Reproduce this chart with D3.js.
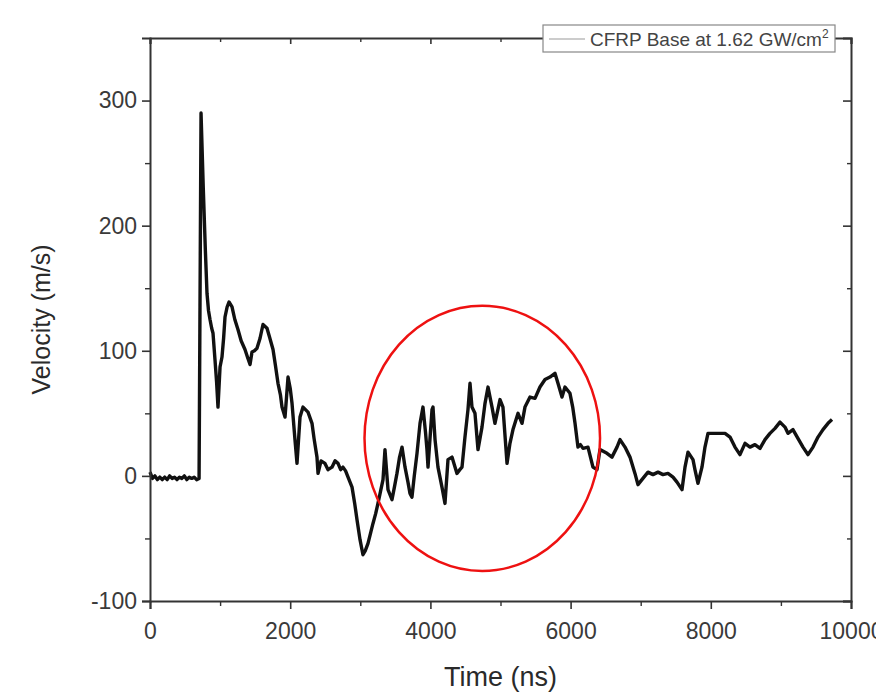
<!DOCTYPE html>
<html>
<head>
<meta charset="utf-8">
<script src="https://cdnjs.cloudflare.com/ajax/libs/d3/7.8.5/d3.min.js"></script>
<style>
  html, body { margin: 0; padding: 0; background: #fff; }
  svg text { font-family: "Liberation Sans", Arial, sans-serif; }
</style>
</head>
<body>
<svg id="chart" width="876" height="693"></svg>
<script>
// ---- data ----
const timeNs = [
  0,35,70,105,140,175,210,245,280,315,350,385,420,455,490,525,560,595,630,665,700,
  728,760,790,813,835,856,880,899,927,950,970,999,1027,1050,1070,1100,1127,1170,1210,1255,
  1300,1355,1390,1427,1455,1490,1526,1570,1612,1669,1710,1755,1790,1826,1860,1883,1926,1969,
  2000,2026,2068,2097,2140,2183,2254,2311,2340,2382,2397,2440,2496,2540,2596,2640,2682,2720,
  2753,2790,2825,2882,2920,2953,2996,3038,3070,3110,3150,3181,3220,3252,3290,3324,3352,3395,
  3452,3490,3523,3560,3595,3638,3680,3709,3737,3770,3809,3852,3894,3930,3951,3966,4023,4037,
  4066,4108,4165,4208,4251,4308,4379,4420,4451,4493,4536,4565,4593,4636,4679,4736,4779,4822,
  4879,4921,4993,5035,5093,5135,5178,5250,5307,5349,5421,5492,5563,5635,5706,5777,5820,5877,
  5920,5991,6030,6063,6105,6140,6177,6248,6319,6376,6419,6519,6590,6662,6705,6776,6847,6918,
  6961,7032,7104,7175,7247,7318,7389,7461,7518,7589,7632,7675,7746,7774,7817,7874,7917,7960,
  8031,8103,8203,8274,8345,8416,8488,8559,8630,8702,8773,8844,8916,8987,9058,9101,9172,9243,
  9315,9386,9458,9529,9600,9672,9729
];
const velocity = [
  3,-2,0,-3,-1,-3,-1,-3,0,-2,-1,-3,-1,-2,0,-3,-1,-2,-1,-3,-2,
  290,230,180,146,132,125,118,114,93,75,55,87,95,110,127,135,139,135,125,117,
  108,101,95,89,99,100,102,110,121,118,110,101,88,74,65,55,47,79,
  70,58,29,10,47,55,51,42,30,15,2,12,10,5,7,12,10,5,
  7,4,-1,-9,-22,-35,-51,-63,-60,-54,-45,-38,-30,-22,-12,-3,21,-11,
  -19,-8,2,15,23,7,-5,-14,-17,0,18,42,55,35,21,7,53,55,
  29,7,-9,-22,13,15,2,5,7,31,53,74,55,50,21,39,58,71,
  55,42,61,55,10,26,37,50,42,55,63,62,71,77,79,82,74,63,
  71,66,55,42,23,25,22,23,7,5,21,18,15,23,29,23,15,2,
  -7,-2,3,1,3,1,2,-1,-5,-11,7,19,13,5,-6,7,23,34,
  34,34,34,31,23,17,26,23,25,22,29,34,38,43,39,34,37,30,
  23,17,23,31,37,42,45
];
const xTicks = [0, 2000, 4000, 6000, 8000, 10000];
const xMinor = [1000, 3000, 5000, 7000, 9000];
const yTicks = [-100, 0, 100, 200, 300];
const yMinor = [-50, 50, 150, 250];
const seriesName = "CFRP Base at 1.62 GW/cm";
const seriesSup = "2";
const xTitle = "Time (ns)";
const yTitle = "Velocity (m/s)";
// highlight ellipse: centre (time, velocity) and half-widths in data units
const highlightCenter = [4740, 30];
const highlightRadii = [1680, 106];

// ---- layout ----
const svg = d3.select("#chart");
const W = 876, H = 693;
const m = { left: 150, right: 25, top: 38, bottom: 92 };
const x = d3.scaleLinear().domain([0, 10000]).range([m.left, W - m.right]);
const y = d3.scaleLinear().domain([-100, 350]).range([H - m.bottom, m.top]);

const axisColor = "#333";
const fmt = d => String(d);
const g = svg.append("g");

// data line
const pts = timeNs.map((t, i) => [t, velocity[i]]);
g.append("path")
  .datum(pts)
  .attr("fill", "none")
  .attr("stroke", "#111")
  .attr("stroke-width", 3.4)
  .attr("stroke-linejoin", "round")
  .attr("d", d3.line().x(d => x(d[0])).y(d => y(d[1])));

// axes
function styleAxis(sel) {
  sel.select(".domain").attr("stroke", axisColor).attr("stroke-width", 2);
  sel.selectAll(".tick line").attr("stroke", axisColor).attr("stroke-width", 1.6);
  sel.selectAll(".tick text").attr("fill", "#3a3a3a").attr("font-size", 23);
}
function minorStyle(s) {
  s.select(".domain").remove();
  s.selectAll("line").attr("stroke", axisColor).attr("stroke-width", 1.4);
}
const axBottom = g.append("g").attr("transform", `translate(0,${y(-100)})`)
  .call(d3.axisBottom(x).tickValues(xTicks).tickSize(8).tickPadding(14).tickFormat(fmt));
styleAxis(axBottom);
g.append("g").attr("transform", `translate(0,${y(-100)})`)
  .call(d3.axisBottom(x).tickValues(xMinor).tickSize(5).tickFormat(""))
  .call(minorStyle);

const axLeft = g.append("g").attr("transform", `translate(${x(0)},0)`)
  .call(d3.axisLeft(y).tickValues(yTicks).tickSize(8).tickPadding(5).tickFormat(fmt));
styleAxis(axLeft);
g.append("g").attr("transform", `translate(${x(0)},0)`)
  .call(d3.axisLeft(y).tickValues(yMinor).tickSize(5).tickFormat(""))
  .call(minorStyle);

// mirror axes (top, right) with inward ticks
const axTop = g.append("g").attr("transform", `translate(0,${y(350)})`)
  .call(d3.axisBottom(x).tickValues(xTicks).tickSize(6).tickFormat(""));
styleAxis(axTop);
g.append("g").attr("transform", `translate(0,${y(350)})`)
  .call(d3.axisBottom(x).tickValues(xMinor).tickSize(4).tickFormat(""))
  .call(minorStyle);
const axRight = g.append("g").attr("transform", `translate(${x(10000)},0)`)
  .call(d3.axisLeft(y).tickValues(yTicks).tickSize(8).tickFormat(""));
styleAxis(axRight);
g.append("g").attr("transform", `translate(${x(10000)},0)`)
  .call(d3.axisLeft(y).tickValues(yMinor).tickSize(4).tickFormat(""))
  .call(minorStyle);

// axis titles
svg.append("text")
  .attr("x", (x(0) + x(10000)) / 2)
  .attr("y", 686)
  .attr("text-anchor", "middle")
  .attr("font-size", 27)
  .attr("fill", "#2a2a2a")
  .text(xTitle);
svg.append("text")
  .attr("transform", `translate(50,${(y(-100) + y(350)) / 2}) rotate(-90)`)
  .attr("text-anchor", "middle")
  .attr("font-size", 25)
  .attr("fill", "#2a2a2a")
  .text(yTitle);

// legend
const lg = svg.append("g");
lg.append("rect")
  .attr("x", 543).attr("y", 25).attr("width", 292).attr("height", 27)
  .attr("fill", "#fff").attr("stroke", "#888").attr("stroke-width", 1.2);
lg.append("line")
  .attr("x1", 549).attr("x2", 585).attr("y1", 39).attr("y2", 39)
  .attr("stroke", "#999").attr("stroke-width", 1.2);
const lt = lg.append("text")
  .attr("x", 590).attr("y", 46)
  .attr("font-size", 19)
  .attr("fill", "#444");
lt.append("tspan").text(seriesName);
lt.append("tspan").attr("dy", -8).attr("font-size", 12).text(seriesSup);

// red highlight ellipse
svg.append("ellipse")
  .attr("cx", x(highlightCenter[0]))
  .attr("cy", y(highlightCenter[1]))
  .attr("rx", x(highlightCenter[0] + highlightRadii[0]) - x(highlightCenter[0]))
  .attr("ry", y(highlightCenter[1] - highlightRadii[1]) - y(highlightCenter[1]))
  .attr("fill", "none")
  .attr("stroke", "#ee1111")
  .attr("stroke-width", 2.5);
</script>
</body>
</html>
